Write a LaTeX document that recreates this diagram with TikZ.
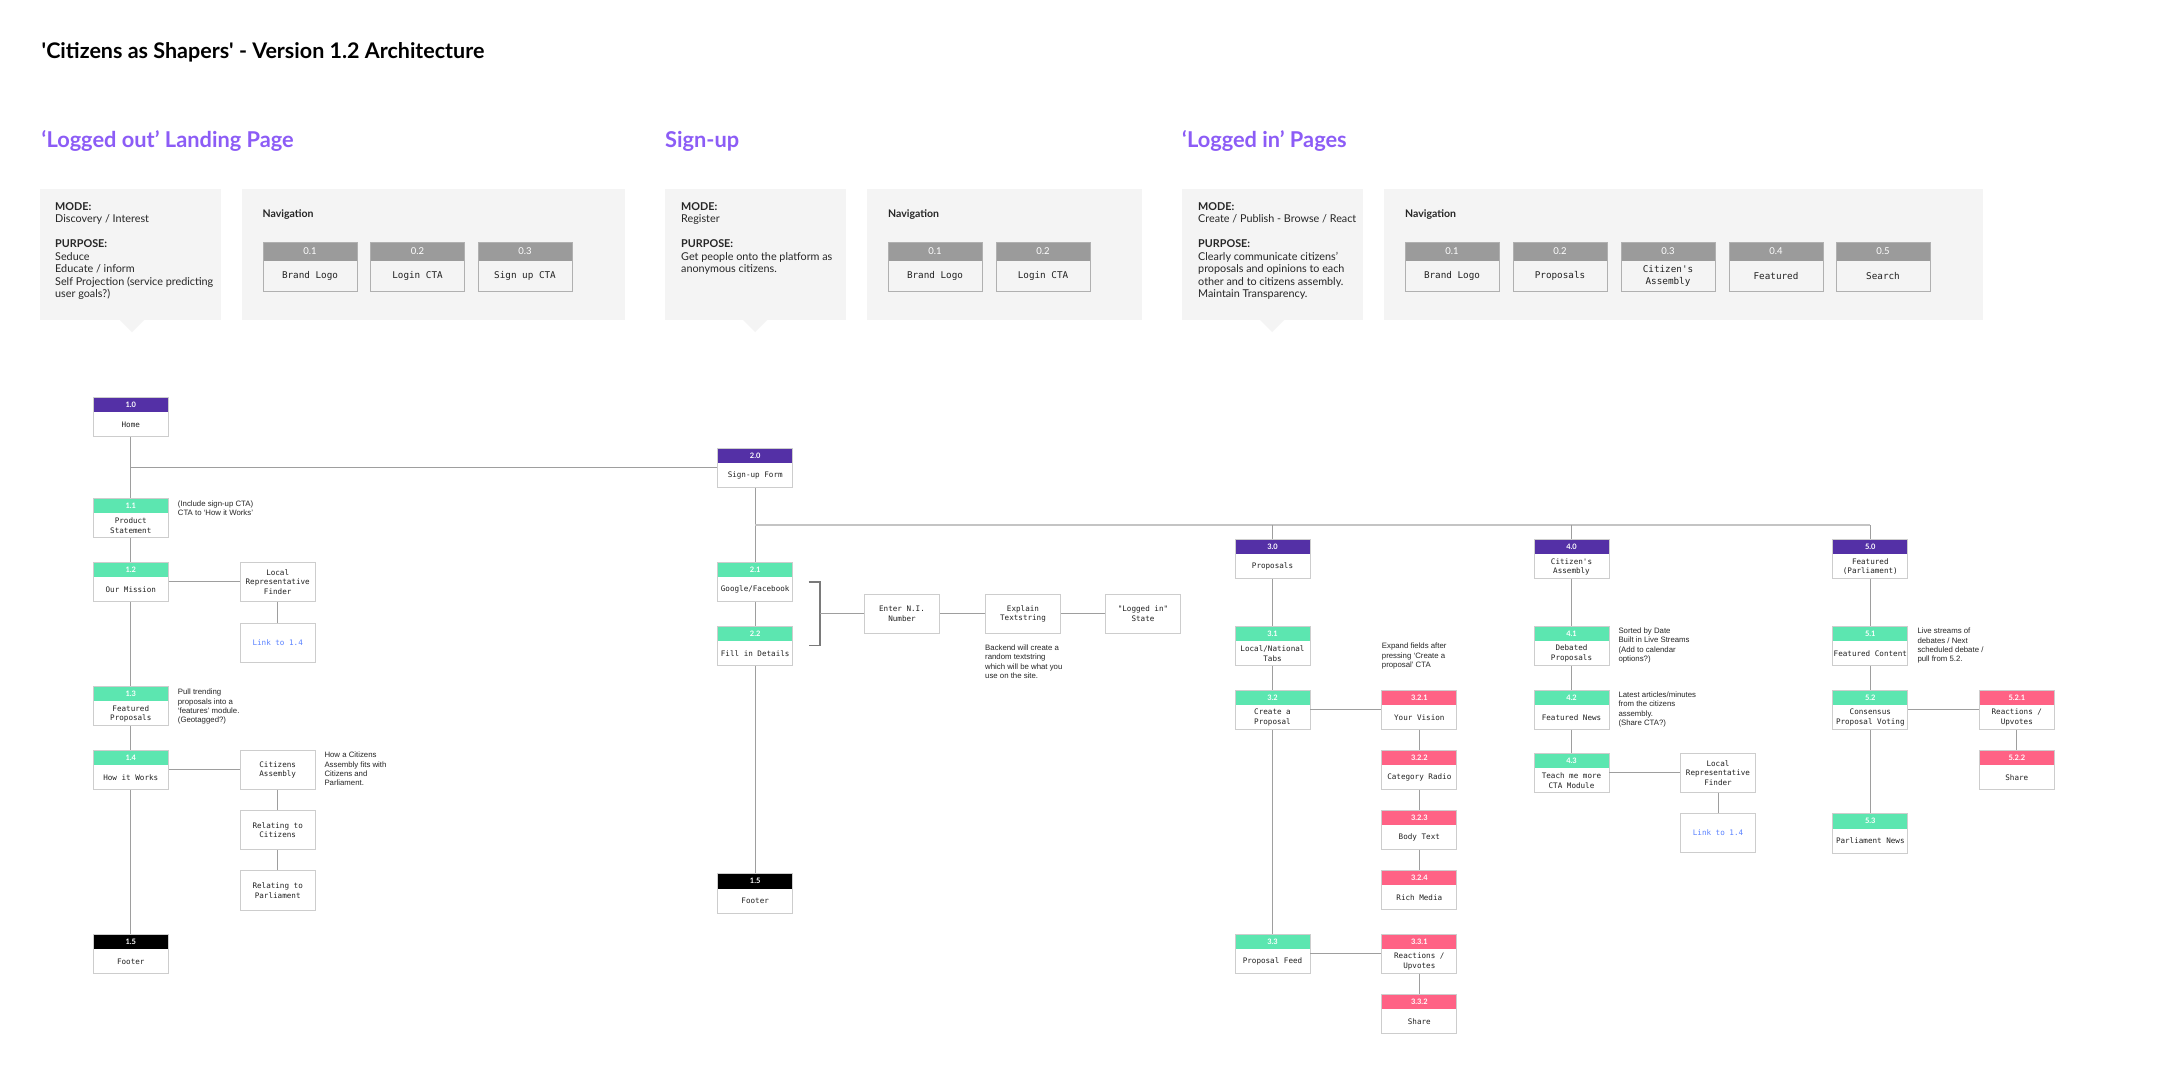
\documentclass[tikz,border=0pt]{standalone}
\usepackage{fontspec}
\setmainfont{Lato}
\newfontfamily\monof{DejaVu Sans Mono}
\newfontfamily\arialf{Liberation Sans}
\usetikzlibrary{calc}
\definecolor{hdrpurple}{HTML}{5430A6}
\definecolor{hdrgreen}{HTML}{5CE6B0}
\definecolor{hdrpink}{HTML}{FF6285}
\definecolor{hdrblack}{HTML}{000000}
\definecolor{navgrey}{HTML}{9B9B9B}
\definecolor{panel}{HTML}{F4F4F4}
\definecolor{headv}{HTML}{8C5CF6}
\definecolor{bordergrey}{HTML}{CDCDCD}
\definecolor{navborder}{HTML}{B0B0B0}
\definecolor{linegrey}{HTML}{9E9E9E}
\definecolor{busgrey}{HTML}{C4C4C4}
\definecolor{brkgrey}{HTML}{7A7A7A}
\definecolor{linkblue}{HTML}{5A82FF}
\definecolor{txtgrey}{HTML}{222222}
\newcommand\TreeNode[6]{%
  \fill[#4] ({#2-37.5},#3) rectangle ({#2+37.5},{#3+15});
  \node[tbox] (#1) at (#2,{#3+19.75}) {};
  \node[tnum] (#1-n) at (#2,{#3+7.5}) {#5};
  \node[ttxt] (#1-t) at (#2,{#3+27.4}) {#6};
}
\newcommand\PlainNode[5]{%
  \node[pbox,text=#5] (#1) at (#2,{#3+19.75}) {#4};
}
\newcommand\NavBox[4]{%
  \fill[navgrey] (#2,242) rectangle ({#2+94},261);
  \node[nbox] (#1) at ({#2+47},266.5) {};
  \node[nnum] (#1-n) at ({#2+47},251.5) {#3};
  \node[ntxt] (#1-t) at ({#2+47},276.3) {#4};
}
\begin{document}
\begin{tikzpicture}[x=1pt,y=-1pt,
  tbox/.style={draw=bordergrey,line width=0.9pt,minimum width=75pt,minimum height=39.5pt,inner sep=0pt},
  ttxt/.style={font=\monof\fontsize{7.6}{9.6}\selectfont,text=txtgrey,align=center,inner sep=0pt},
  pbox/.style={tbox,ttxt},
  tnum/.style={font=\bfseries\fontsize{7.5}{9}\selectfont,text=white,inner sep=0pt},
  nbox/.style={draw=navborder,line width=0.9pt,minimum width=94pt,minimum height=49pt,inner sep=0pt},
  nnum/.style={font=\fontsize{9.5}{11}\selectfont,text=white,inner sep=0pt},
  ntxt/.style={font=\monof\fontsize{9.3}{12}\selectfont,text=txtgrey,align=center,inner sep=0pt},
  conn/.style={draw=linegrey,line width=1pt},
  bus/.style={draw=busgrey,line width=1.6pt},
  brk/.style={draw=brkgrey,line width=1.3pt},
  note/.style={font=\arialf\fontsize{7.8}{9.4}\selectfont,align=left,anchor=north west,inner sep=0pt,text=black!85},
  ptxt/.style={font=\fontsize{10.8}{12.5}\selectfont,align=left,anchor=north west,inner sep=0pt,text=black!85},
  navlbl/.style={font=\bfseries\fontsize{10.5}{12}\selectfont,anchor=base west,inner sep=0pt,text=black!85},
  titlest/.style={font=\bfseries\fontsize{21.5}{25}\selectfont,anchor=base west,inner sep=0pt,text=black},
  headst/.style={font=\bfseries\fontsize{21.8}{25}\selectfont,anchor=base west,inner sep=0pt,text=headv}
]
\useasboundingbox (0,0) rectangle (2160,1066);
\fill[white] (0,0) rectangle (2160,1066);

% ---------- header ----------
\node[titlest] (title) at (41.5,58) {\textquotesingle Citizens as Shapers\textquotesingle{} - Version 1.2 Architecture};
\node[headst] (h1) at (41.5,147) {‘Logged out’ Landing Page};
\node[headst] (h2) at (665,147) {Sign-up};
\node[headst] (h3) at (1182,147) {‘Logged in’ Pages};

% panels
\fill[panel] (40,189) rectangle (221,320);
\fill[panel] (120,320) -- (132,332) -- (144,320) -- cycle;
\fill[panel] (242,189) rectangle (625,320);
\fill[panel] (665,189) rectangle (846,320);
\fill[panel] (743,320) -- (755,332) -- (767,320) -- cycle;
\fill[panel] (867,189) rectangle (1142,320);
\fill[panel] (1182,189) rectangle (1363,320);
\fill[panel] (1260,320) -- (1272,332) -- (1284,320) -- cycle;
\fill[panel] (1384,189) rectangle (1983,320);

\node[ptxt] (mode1) at (55,202) {\textbf{MODE:}\\Discovery / Interest\\[12.5pt]\textbf{PURPOSE:}\\Seduce\\Educate / inform\\Self Projection (service predicting\\user goals?)};
\node[ptxt] (mode2) at (681,202) {\textbf{MODE:}\\Register\\[12.5pt]\textbf{PURPOSE:}\\Get people onto the platform as\\anonymous citizens.};
\node[ptxt] (mode3) at (1198,202) {\textbf{MODE:}\\Create / Publish - Browse / React\\[12.5pt]\textbf{PURPOSE:}\\Clearly communicate citizens’\\proposals and opinions to each\\other and to citizens assembly.\\Maintain Transparency.};

\node[navlbl] (nav1) at (262.5,217.8) {Navigation};
\node[navlbl] (nav2) at (888,217.8) {Navigation};
\node[navlbl] (nav3) at (1405,217.8) {Navigation};

\NavBox{a01}{263}{0.1}{Brand Logo}
\NavBox{a02}{370.5}{0.2}{Login CTA}
\NavBox{a03}{478}{0.3}{Sign up CTA}
\NavBox{b01}{888}{0.1}{Brand Logo}
\NavBox{b02}{996}{0.2}{Login CTA}
\NavBox{c01}{1405}{0.1}{Brand Logo}
\NavBox{c02}{1513}{0.2}{Proposals}
\NavBox{c03}{1621}{0.3}{Citizen\textquotesingle s\\Assembly}
\NavBox{c04}{1729}{0.4}{Featured}
\NavBox{c05}{1836}{0.5}{Search}

% ---------- column 1 ----------
\TreeNode{n10}{130.8}{397.3}{hdrpurple}{1.0}{Home}
\TreeNode{n11}{130.8}{498.3}{hdrgreen}{1.1}{Product\\Statement}
\TreeNode{n12}{130.8}{562}{hdrgreen}{1.2}{Our Mission}
\TreeNode{n13}{130.8}{686.3}{hdrgreen}{1.3}{Featured\\Proposals}
\TreeNode{n14}{130.8}{750}{hdrgreen}{1.4}{How it Works}
\TreeNode{n15}{130.8}{934.3}{hdrblack}{1.5}{Footer}
\PlainNode{lrf1}{277.7}{562}{Local\\Representative\\Finder}{txtgrey}
\PlainNode{link1}{277.7}{623}{Link to 1.4}{linkblue}
\PlainNode{ca}{277.7}{750}{Citizens\\Assembly}{txtgrey}
\PlainNode{rc}{277.7}{810.3}{Relating to\\Citizens}{txtgrey}
\PlainNode{rp}{277.7}{870.7}{Relating to\\Parliament}{txtgrey}

\node[note] (a11) at (177.7,500.5) {(Include sign-up CTA)\\CTA to ‘How it Works’};
\node[note] (a13) at (177.7,688.8) {Pull trending\\proposals into a\\‘features’ module.\\(Geotagged?)};
\node[note] (aca) at (324.3,751.8) {How a Citizens\\Assembly fits with\\Citizens and\\Parliament.};

% ---------- column 2 ----------
\TreeNode{n20}{755.2}{448}{hdrpurple}{2.0}{Sign-up Form}
\TreeNode{n21}{755.2}{562.3}{hdrgreen}{2.1}{Google/Facebook}
\TreeNode{n22}{755.2}{626}{hdrgreen}{2.2}{Fill in Details}
\TreeNode{n15b}{755.2}{873.7}{hdrblack}{1.5}{Footer}
\PlainNode{eni}{902}{594}{Enter N.I.\\Number}{txtgrey}
\PlainNode{expl}{1023}{594}{Explain\\Textstring}{txtgrey}
\PlainNode{lis}{1143}{594}{\textquotedbl Logged in\textquotedbl\\State}{txtgrey}
\node[note] (a2) at (985,644.5) {Backend will create a\\random textstring\\which will be what you\\use on the site.};

% ---------- column 3 ----------
\TreeNode{n30}{1272.5}{539.3}{hdrpurple}{3.0}{Proposals}
\TreeNode{n31}{1272.5}{626}{hdrgreen}{3.1}{Local/National\\Tabs}
\TreeNode{n32}{1272.5}{690}{hdrgreen}{3.2}{Create a\\Proposal}
\TreeNode{n33}{1272.5}{934}{hdrgreen}{3.3}{Proposal Feed}
\TreeNode{n321}{1419.3}{690}{hdrpink}{3.2.1}{Your Vision}
\TreeNode{n322}{1419.3}{750}{hdrpink}{3.2.2}{Category Radio}
\TreeNode{n323}{1419.3}{810}{hdrpink}{3.2.3}{Body Text}
\TreeNode{n324}{1419.3}{870.3}{hdrpink}{3.2.4}{Rich Media}
\TreeNode{n331}{1419.3}{934}{hdrpink}{3.3.1}{Reactions /\\Upvotes}
\TreeNode{n332}{1419.3}{994}{hdrpink}{3.3.2}{Share}
\node[note] (a3) at (1381.7,642.8) {Expand fields after\\pressing ‘Create a\\proposal’ CTA};

% ---------- column 4 ----------
\TreeNode{n40}{1571.5}{539.3}{hdrpurple}{4.0}{Citizen\textquotesingle s\\Assembly}
\TreeNode{n41}{1571.5}{626}{hdrgreen}{4.1}{Debated\\Proposals}
\TreeNode{n42}{1571.5}{690}{hdrgreen}{4.2}{Featured News}
\TreeNode{n43}{1571.5}{753}{hdrgreen}{4.3}{Teach me more\\CTA Module}
\PlainNode{lrf2}{1718}{753}{Local\\Representative\\Finder}{txtgrey}
\PlainNode{link2}{1718}{813.3}{Link to 1.4}{linkblue}
\node[note] (a41) at (1618.3,627.5) {Sorted by Date\\Built in Live Streams\\(Add to calendar\\options?)};
\node[note] (a42) at (1618.3,691.5) {Latest articles/minutes\\from the citizens\\assembly.\\(Share CTA?)};

% ---------- column 5 ----------
\TreeNode{n50}{1870.3}{539.3}{hdrpurple}{5.0}{Featured\\(Parliament)}
\TreeNode{n51}{1870.3}{626}{hdrgreen}{5.1}{Featured Content}
\TreeNode{n52}{1870.3}{690}{hdrgreen}{5.2}{Consensus\\Proposal Voting}
\TreeNode{n53}{1870.3}{813.7}{hdrgreen}{5.3}{Parliament News}
\TreeNode{n521}{2016.8}{690}{hdrpink}{5.2.1}{Reactions /\\Upvotes}
\TreeNode{n522}{2016.8}{750}{hdrpink}{5.2.2}{Share}
\node[note] (a51) at (1917.3,627.8) {Live streams of\\debates / Next\\scheduled debate /\\pull from 5.2.};

% ---------- connectors ----------
\coordinate (busy) at (0,525);
\draw[conn] (n10.south) -- (n11.north);
\draw[conn] (n10.south |- n20.west) -- (n20.west);
\draw[conn] (n11.south) -- (n12.north);
\draw[conn] (n12.south) -- (n13.north);
\draw[conn] (n13.south) -- (n14.north);
\draw[conn] (n14.south) -- (n15.north);
\draw[conn] (n12.east) -- (lrf1.west);
\draw[conn] (lrf1.south) -- (link1.north);
\draw[conn] (n14.east) -- (ca.west);
\draw[conn] (ca.south) -- (rc.north);
\draw[conn] (rc.south) -- (rp.north);

\draw[conn] (n20.south) -- (n21.north);
\draw[conn] (n21.south) -- (n22.north);
\draw[conn] (n22.south) -- (n15b.north);
\draw[bus] (n20.south |- busy) -- (n50.north |- busy);
\draw[conn] (n30.north |- busy) -- (n30.north);
\draw[conn] (n40.north |- busy) -- (n40.north);
\draw[conn] (n50.north |- busy) -- (n50.north);

\coordinate (bt) at (808.7,582.1);
\coordinate (bb) at (808.7,645.8);
\coordinate (bm) at (820,613.75);
\draw[brk] (bt) -- (820,582.1) -- (820,645.8) -- (bb);
\draw[conn] (bm) -- (eni.west);
\draw[conn] (eni.east) -- (expl.west);
\draw[conn] (expl.east) -- (lis.west);

\draw[conn] (n30.south) -- (n31.north);
\draw[conn] (n31.south) -- (n32.north);
\draw[conn] (n32.south) -- (n33.north);
\draw[conn] (n32.east) -- (n321.west);
\draw[conn] (n321.south) -- (n322.north);
\draw[conn] (n322.south) -- (n323.north);
\draw[conn] (n323.south) -- (n324.north);
\draw[conn] (n33.east) -- (n331.west);
\draw[conn] (n331.south) -- (n332.north);

\draw[conn] (n40.south) -- (n41.north);
\draw[conn] (n41.south) -- (n42.north);
\draw[conn] (n42.south) -- (n43.north);
\draw[conn] (n43.east) -- (lrf2.west);
\draw[conn] (lrf2.south) -- (link2.north);

\draw[conn] (n50.south) -- (n51.north);
\draw[conn] (n51.south) -- (n52.north);
\draw[conn] (n52.south) -- (n53.north);
\draw[conn] (n52.east) -- (n521.west);
\draw[conn] (n521.south) -- (n522.north);
\end{tikzpicture}
\end{document}
